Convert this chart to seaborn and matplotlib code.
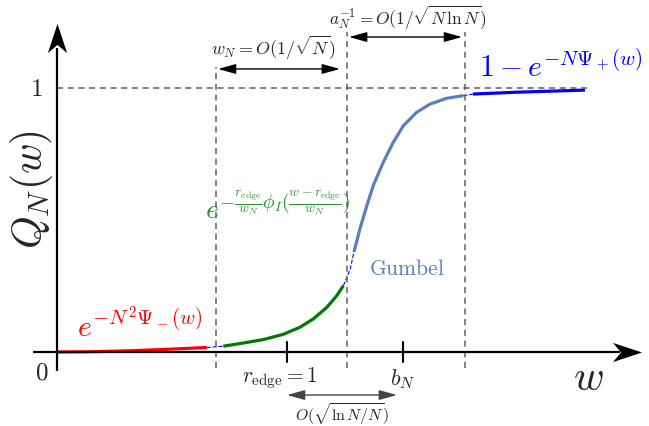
import matplotlib
matplotlib.use("Agg")
import matplotlib.pyplot as plt
from matplotlib.path import Path
import seaborn as sns
import pandas as pd

# values: w in units of r_edge, Q in units of 1
red_w = [0.0, 0.15, 0.33, 0.5, 0.651]
red_q = [0.0, 0.001, 0.005, 0.011, 0.017]
link1_w = [0.651, 0.723]
link1_q = [0.017, 0.022]
green_w = [0.723, 0.810, 0.897, 0.984, 1.057, 1.114, 1.173, 1.216, 1.245]
green_q = [0.022, 0.034, 0.047, 0.067, 0.094, 0.125, 0.169, 0.213, 0.251]
link2_w = [1.245, 1.275, 1.291]
link2_q = [0.251, 0.314, 0.378]
gumbel_w = [1.291, 1.317, 1.347, 1.375, 1.419, 1.462, 1.506, 1.564, 1.622, 1.694, 1.767]
gumbel_q = [0.378, 0.466, 0.554, 0.630, 0.719, 0.794, 0.857, 0.908, 0.939, 0.961, 0.971]
link3_w = [1.767, 1.809]
link3_q = [0.971, 0.977]
blue_w = [1.809, 2.0, 2.15, 2.296]
blue_q = [0.977, 0.984, 0.988, 0.992]

r_edge = 1.0
b_N = 1.504
dash_w = [0.691, 1.261, 1.774]
dash_top = [1.08, 1.212, 1.212]

sns.set_theme(style="white")
plt.rcParams["mathtext.fontset"] = "cm"

fig = plt.figure(figsize=(6.49, 4.27), dpi=100)
ax = fig.add_axes([0, 0, 1, 1])
ax.set_xlim(-0.2478, 2.574)
ax.set_ylim(-0.2803, 1.337)
ax.axis("off")


def seg(w, q, color, lw, ls="-"):
    df = pd.DataFrame({"w": w, "q": q})
    sns.lineplot(data=df, x="w", y="q", color=color, lw=lw, ls=ls, sort=False,
                 ax=ax, legend=False, solid_capstyle="butt")


seg(red_w, red_q, "#ff0000", 2.3)
seg(link1_w, link1_q, "#0000ff", 0.8, "--")
seg(green_w, green_q, "#007a00", 2.3)
seg(link2_w, link2_q, "#0000ff", 0.8, "--")
seg(gumbel_w, gumbel_q, "#5b7fbd", 2.3)
seg(link3_w, link3_q, "#0000ff", 0.8, "--")
seg(blue_w, blue_q, "#0000ff", 2.3)

# guide lines
grey = "#5f5f5f"
ax.plot([0, 2.316], [1, 1], color=grey, ls=(0, (4, 3)), lw=1.1)
for x, top in zip(dash_w, dash_top):
    ax.plot([x, x], [-0.06, top], color=grey, ls=(0, (4, 3)), lw=1.1)

# axes with stealth-like arrow heads
ax.plot([-0.104, 2.45], [0, 0], color="black", lw=1.6, solid_capstyle="butt")
ax.plot([0, 0], [-0.072, 1.15], color="black", lw=1.6, solid_capstyle="butt")
stealth_up = Path([(0, 0.5), (0.33, -0.5), (0, -0.22), (-0.33, -0.5), (0, 0.5)],
                  [Path.MOVETO, Path.LINETO, Path.LINETO, Path.LINETO, Path.CLOSEPOLY])
stealth_right = Path([(0.5, 0), (-0.5, 0.33), (-0.22, 0), (-0.5, -0.33), (0.5, 0)],
                     [Path.MOVETO, Path.LINETO, Path.LINETO, Path.LINETO, Path.CLOSEPOLY])
ax.plot([0], [1.19], marker=stealth_up, ms=21, color="black", mew=0)
ax.plot([2.48], [0], marker=stealth_right, ms=21, color="black", mew=0)

for x in [r_edge, b_N]:
    ax.plot([x, x], [-0.038, 0.038], color="black", lw=1.5)


def darrow(x0, x1, y, color="black"):
    ax.annotate("", xy=(x1, y), xytext=(x0, y),
                arrowprops=dict(arrowstyle="<|-|>,head_length=0.9,head_width=0.25",
                                color=color, lw=1.0, mutation_scale=12, shrinkA=0, shrinkB=0))


darrow(0.70, 1.23, 1.072)
darrow(1.27, 1.761, 1.193)
darrow(1.0, 1.478, -0.163, color="#444444")

# labels
ax.text(-0.11, 0.62, r"$Q_N(w)$", fontsize=30, rotation=90, ha="center", va="center")
ax.text(-0.065, -0.075, r"$0$", fontsize=18, ha="center", va="center")
ax.text(-0.09, 1.0, r"$1$", fontsize=18, ha="center", va="center")
ax.text(2.31, -0.095, r"$w$", fontsize=30, ha="center", va="center")
ax.text(0.97, -0.095, r"$r_{\rm edge}=1$", fontsize=15.5, ha="center", va="center")
ax.text(1.504, -0.098, r"$b_N$", fontsize=16, ha="center", va="center")
ax.text(1.24, -0.235, r"$O(\sqrt{\ln N/N})$", fontsize=11.5, ha="center", va="center")
ax.text(0.943, 1.155, r"$w_N = O(1/\sqrt{N})$", fontsize=13, ha="center", va="center")
ax.text(1.526, 1.27, r"$a_N^{-1} = O(1/\sqrt{N\,\ln N})$", fontsize=12.5, ha="center", va="center")
ax.text(0.36, 0.105, r"$e^{-N^2\Psi_-(w)}$", fontsize=21.5, color="#ff0000", ha="center", va="center")
ax.text(0.957, 0.549, r"$e^{-\frac{r_{\rm edge}}{w_N}\phi_I(\frac{w-r_{\rm edge}}{w_N})}$",
        fontsize=20, color="#2a962a", ha="center", va="center")
ax.text(1.52, 0.32, r"$\mathrm{Gumbel}$", fontsize=15.5, color="#5b7fbd", ha="center", va="center")
ax.text(2.19, 1.085, r"$1-e^{-N\Psi_+(w)}$", fontsize=21.5, color="#0000ff", ha="center", va="center")

fig.savefig("out.png", dpi=100)
